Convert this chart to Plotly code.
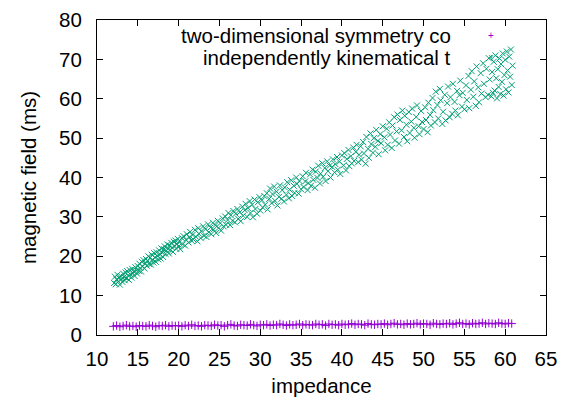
import plotly.graph_objects as go

# ---------------- data ----------------
series_names = ["two-dimensional symmetry co", "independently kinematical t"]

purple_x = [12.0, 12.4, 12.8, 13.2, 13.6, 14.0, 14.4, 14.8, 15.2, 15.6,
            16.0, 16.4, 16.8, 17.2, 17.6, 18.0, 18.4, 18.8, 19.2, 19.6,
            20.0, 20.4, 20.8, 21.2, 21.6, 22.0, 22.4, 22.8, 23.2, 23.6,
            24.0, 24.4, 24.8, 25.2, 25.6, 26.0, 26.4, 26.8, 27.2, 27.6,
            28.0, 28.4, 28.8, 29.2, 29.6, 30.0, 30.4, 30.8, 31.2, 31.6,
            32.0, 32.4, 32.8, 33.2, 33.6, 34.0, 34.4, 34.8, 35.2, 35.6,
            36.0, 36.4, 36.8, 37.2, 37.6, 38.0, 38.4, 38.8, 39.2, 39.6,
            40.0, 40.4, 40.8, 41.2, 41.6, 42.0, 42.4, 42.8, 43.2, 43.6,
            44.0, 44.4, 44.8, 45.2, 45.6, 46.0, 46.4, 46.8, 47.2, 47.6,
            48.0, 48.4, 48.8, 49.2, 49.6, 50.0, 50.4, 50.8, 51.2, 51.6,
            52.0, 52.4, 52.8, 53.2, 53.6, 54.0, 54.4, 54.8, 55.2, 55.6,
            56.0, 56.4, 56.8, 57.2, 57.6, 58.0, 58.4, 58.8, 59.2, 59.6,
            60.0, 60.4, 60.8]
purple_y = [2.2, 2.4, 2.1, 2.3, 2.5, 2.2, 2.3, 2.1, 2.4, 2.3,
            2.2, 2.5, 2.3, 2.1, 2.4, 2.3, 2.5, 2.2, 2.4, 2.3,
            2.4, 2.2, 2.5, 2.3, 2.6, 2.3, 2.4, 2.2, 2.5, 2.4,
            2.3, 2.6, 2.4, 2.5, 2.2, 2.5, 2.7, 2.4, 2.3, 2.6,
            2.5, 2.4, 2.7, 2.5, 2.3, 2.6, 2.5, 2.7, 2.4, 2.6,
            2.5, 2.8, 2.6, 2.4, 2.7, 2.5, 2.6, 2.8, 2.5, 2.7,
            2.6, 2.5, 2.8, 2.6, 2.7, 2.4, 2.8, 2.6, 2.7, 2.5,
            2.8, 2.6, 2.7, 2.9, 2.6, 2.8, 2.7, 2.5, 2.9, 2.7,
            2.6, 2.8, 2.7, 2.9, 2.6, 2.8, 3.0, 2.7, 2.8, 2.6,
            2.9, 2.7, 2.8, 3.0, 2.7, 2.9, 2.8, 2.6, 3.0, 2.8,
            2.7, 2.9, 2.8, 3.0, 2.7, 2.9, 3.1, 2.8, 2.9, 2.7,
            3.0, 2.8, 2.9, 3.1, 2.8, 3.0, 2.9, 2.8, 3.1, 2.9,
            2.8, 3.0, 2.9]

green_x = [12.1, 12.2, 12.3, 12.4, 12.5, 12.6, 12.7, 12.8, 12.9, 13.0,
           13.1, 13.2, 13.3, 13.4, 13.5, 13.6, 13.7, 13.8, 13.9, 14.0,
           14.1, 14.2, 14.3, 14.4, 14.5, 14.6, 14.7, 14.8, 14.9, 15.0,
           15.1, 15.2, 15.3, 15.4, 15.5, 15.6, 15.7, 15.8, 15.9, 16.0,
           16.1, 16.2, 16.3, 16.4, 16.5, 16.6, 16.7, 16.8, 16.9, 17.0,
           17.1, 17.2, 17.3, 17.4, 17.5, 17.6, 17.7, 17.8, 17.9, 18.0,
           18.1, 18.2, 18.3, 18.4, 18.5, 18.6, 18.7, 18.8, 18.9, 19.0,
           19.1, 19.2, 19.3, 19.4, 19.5, 19.6, 19.7, 19.8, 19.9, 20.0,
           20.1, 20.2, 20.4, 20.5, 20.6, 20.8, 20.9, 21.0, 21.2, 21.3,
           21.4, 21.6, 21.7, 21.8, 22.0, 22.1, 22.3, 22.4, 22.5, 22.7,
           22.8, 23.0, 23.1, 23.3, 23.4, 23.6, 23.7, 23.9, 24.0, 24.2,
           24.3, 24.5, 24.6, 24.8, 24.9,
           25.1, 25.2, 25.4, 25.5, 25.7, 25.8, 26.0, 26.1, 26.3, 26.4,
           26.6, 26.7, 26.9, 27.0, 27.2, 27.3, 27.5, 27.6, 27.8, 27.9,
           28.1, 28.2, 28.4, 28.5, 28.7, 28.8, 29.0, 29.1, 29.3, 29.4,
           29.6, 29.7, 29.9, 30.0,
           30.2, 30.3, 30.5, 30.6, 30.8, 30.9, 31.1, 31.2, 31.4, 31.5,
           31.7, 31.8, 32.0, 32.1, 32.3, 32.4, 32.6, 32.7, 32.9, 33.0,
           33.2, 33.3, 33.5, 33.6, 33.8, 33.9, 34.1, 34.2, 34.4, 34.5,
           34.7, 34.8, 35.0,
           35.2, 35.3, 35.5, 35.6, 35.8, 35.9, 36.1, 36.2, 36.4, 36.5,
           36.7, 36.8, 37.0, 37.1, 37.3, 37.4, 37.6, 37.7, 37.9, 38.0,
           38.2, 38.3, 38.5, 38.6, 38.8, 38.9, 39.1, 39.2, 39.4, 39.5,
           39.7, 39.8, 40.0,
           40.2, 40.3, 40.5, 40.6, 40.8, 40.9, 41.1, 41.2, 41.4, 41.5,
           41.7, 41.8, 42.0, 42.1, 42.3, 42.4, 42.6, 42.7, 42.9, 43.0,
           43.2, 43.3, 43.5, 43.6, 43.8, 43.9, 44.1, 44.2, 44.4, 44.5,
           44.7, 44.8, 45.0,
           45.2, 45.3, 45.5, 45.6, 45.8, 45.9, 46.1, 46.2, 46.4, 46.5,
           46.7, 46.8, 47.0, 47.1, 47.3, 47.4, 47.6, 47.7, 47.9, 48.0,
           48.2, 48.3, 48.5, 48.6, 48.8, 48.9, 49.1, 49.2, 49.4, 49.5,
           49.7, 49.8, 50.0,
           50.2, 50.3, 50.5, 50.6, 50.8, 50.9, 51.1, 51.2, 51.4, 51.5,
           51.7, 51.8, 52.0, 52.1, 52.3, 52.4, 52.6, 52.7, 52.9, 53.0,
           53.2, 53.3, 53.5, 53.6, 53.8, 53.9, 54.1, 54.2, 54.4, 54.5,
           54.7, 54.8, 55.0,
           55.2, 55.3, 55.5, 55.6, 55.8, 55.9, 56.1, 56.2, 56.4, 56.5,
           56.7, 56.8, 57.0, 57.1, 57.3, 57.4, 57.6, 57.7, 57.9, 58.0,
           58.1,
           58.3, 58.4, 58.5, 58.6, 58.7, 58.8, 58.9, 59.0, 59.1, 59.2,
           59.3, 59.4, 59.5, 59.6, 59.7, 59.8, 59.9, 60.0, 60.1, 60.2,
           60.3, 60.4, 60.5, 60.6, 60.7, 60.8, 60.9]
green_y = [13.2, 14.8, 12.9, 14.1, 15.3, 13.6, 14.5, 12.8, 15.0, 14.2,
           13.5, 15.6, 14.7, 13.9, 15.9, 14.4, 16.2, 15.1, 14.0, 16.5,
           15.4, 14.6, 16.8, 15.7, 16.1, 15.0, 17.2, 16.4, 15.6, 17.5,
           16.3, 18.1, 17.0, 16.1, 18.6, 17.4, 19.0, 16.9, 18.2, 19.3,
           17.6, 18.8, 20.0, 18.0, 19.6, 17.9, 20.4, 19.1, 18.4, 20.8,
           19.7, 18.6, 21.0, 20.1, 19.2, 21.5, 20.5, 19.4, 22.0, 20.9,
           19.8, 21.8, 22.5, 20.6, 21.4, 23.0, 21.9, 20.7, 22.7, 21.6,
           23.4, 22.2, 21.1, 23.7, 22.6, 24.0, 21.9, 23.1, 24.4, 22.5,
           23.6, 21.8, 24.6, 23.0, 25.1, 22.7, 24.2, 25.6, 23.5, 24.8,
           26.2, 23.9, 25.4, 24.3, 26.7, 25.0, 23.8, 27.1, 25.7, 24.6,
           26.4, 27.6, 25.2, 26.9, 24.9, 28.1, 26.1, 27.3, 25.6, 28.5,
           26.8, 27.9, 25.9, 29.0, 27.2,
           28.4, 26.5, 29.6, 27.6, 30.1, 28.0, 29.2, 31.0, 27.9, 30.4,
           29.0, 31.5, 28.6, 30.8, 32.0, 29.5, 31.2, 28.9, 32.6, 30.3,
           31.7, 33.3, 30.0, 32.2, 34.0, 31.0, 33.1, 29.9, 34.4, 32.0,
           30.8, 33.7, 35.0, 31.6,
           34.2, 32.4, 35.3, 33.1, 36.0, 31.9, 34.6, 37.2, 33.5, 35.8,
           37.7, 34.1, 36.4, 32.9, 35.1, 38.0, 34.6, 36.8, 33.9, 37.5,
           35.6, 38.8, 34.7, 36.9, 39.3, 35.3, 37.9, 36.1, 40.0, 38.4,
           35.9, 39.1, 37.0,
           40.3, 37.6, 39.0, 41.2, 36.8, 38.6, 40.8, 37.9, 42.0, 39.4,
           37.4, 41.5, 39.9, 43.0, 38.5, 41.0, 43.6, 40.2, 42.4, 39.1,
           44.1, 41.6, 43.0, 40.0, 42.7, 44.6, 41.3, 43.4, 45.2, 42.0,
           44.0, 40.9, 45.6,
           43.1, 46.2, 41.8, 44.7, 47.0, 42.9, 45.4, 43.6, 47.6, 44.2,
           46.5, 48.3, 43.9, 45.8, 47.9, 44.5, 49.0, 46.1, 43.5, 50.3,
           47.3, 45.0, 51.2, 48.5, 46.3, 50.0, 47.8, 52.1, 49.3, 45.9,
           51.0, 48.7, 53.0,
           50.2, 46.9, 52.4, 48.3, 54.0, 50.9, 47.5, 53.2, 55.3, 49.4,
           51.7, 56.0, 48.6, 54.6, 52.0, 57.0, 50.3, 55.7, 53.4, 49.2,
           56.6, 51.3, 54.2, 57.5, 52.6, 50.1, 55.4, 58.3, 53.0, 51.0,
           56.9, 54.1, 52.3,
           57.8, 54.6, 51.5, 59.0, 55.9, 53.2, 60.2, 57.1, 54.0, 61.8,
           58.4, 55.0, 62.5, 59.6, 53.6, 56.7, 61.0, 54.5, 58.9, 63.1,
           55.3, 60.4, 56.2, 63.8, 59.2, 57.0, 62.0, 55.8, 60.9, 64.6,
           58.0, 61.5, 57.3,
           63.4, 59.7, 65.8, 57.6, 62.3, 67.0, 60.5, 64.4, 58.2, 68.2,
           62.9, 59.1, 66.5, 61.3, 69.0, 63.8, 60.4, 67.6, 61.0, 70.3,
           64.9,
           60.6, 66.8, 61.5, 69.4, 62.1, 71.0, 65.2, 60.1, 67.5, 63.0,
           70.2, 61.2, 68.8, 64.3, 71.5, 60.8, 66.0, 69.9, 62.4, 72.0,
           67.2, 61.6, 70.7, 65.6, 72.5, 63.5, 68.4]

x_ticks = [10, 15, 20, 25, 30, 35, 40, 45, 50, 55, 60, 65]
y_ticks = [0, 10, 20, 30, 40, 50, 60, 70, 80]
x_title = "impedance"
y_title = "magnetic field (ms)"

# ---------------- style ----------------
PURPLE = "#9400D3"
GREEN = "#009E73"
FONT = "Liberation Sans, Arial, sans-serif"
FS = 20.5

fig = go.Figure()
fig.add_trace(go.Scatter(
    x=purple_x, y=purple_y, mode="markers", name=series_names[0],
    marker=dict(symbol="cross-thin", size=6, line=dict(color=PURPLE, width=1)),
    showlegend=False))
fig.add_trace(go.Scatter(
    x=green_x, y=green_y, mode="markers", name=series_names[1],
    marker=dict(symbol="x-thin", size=6, line=dict(color=GREEN, width=1)),
    showlegend=False))

# gnuplot-style key (text right-aligned, sample at right)
key_text_x = 0.792
key_sym_x = 0.877
key_rows = [0.952, 0.882]
key_syms = ["+", "×"]
key_cols = [PURPLE, GREEN]
for i, name in enumerate(series_names):
    fig.add_annotation(x=key_text_x, y=key_rows[i], xref="paper", yref="paper",
                       text=name, showarrow=False, xanchor="right", yanchor="middle",
                       font=dict(family=FONT, size=FS, color="black"))
    fig.add_annotation(x=key_sym_x, y=key_rows[i], xref="paper", yref="paper",
                       text=key_syms[i], showarrow=False, xanchor="center", yanchor="middle",
                       font=dict(family=FONT, size=10, color=key_cols[i]))

axis_common = dict(
    showgrid=False, zeroline=False, showline=True, linecolor="black", linewidth=1,
    mirror="allticks", ticks="inside", ticklen=6, tickwidth=1, tickcolor="black",
    tickfont=dict(family=FONT, size=FS, color="black"),
)
fig.update_xaxes(range=[10, 65], tickvals=x_ticks, ticktext=[str(v) for v in x_ticks],
                 ticklabelstandoff=5,
                 title=dict(text=x_title, font=dict(family=FONT, size=FS, color="black"), standoff=10),
                 **axis_common)
fig.update_yaxes(range=[0, 80], tickvals=y_ticks, ticktext=[str(v) for v in y_ticks],
                 ticklabelstandoff=10,
                 title=dict(text=y_title, font=dict(family=FONT, size=FS, color="black"), standoff=16),
                 **axis_common)

fig.update_layout(
    width=569, height=397,
    margin=dict(l=97, r=23, t=20, b=62, autoexpand=False),
    plot_bgcolor="white", paper_bgcolor="white",
    font=dict(family=FONT, size=FS, color="black"),
)

fig.write_html("out.html")
